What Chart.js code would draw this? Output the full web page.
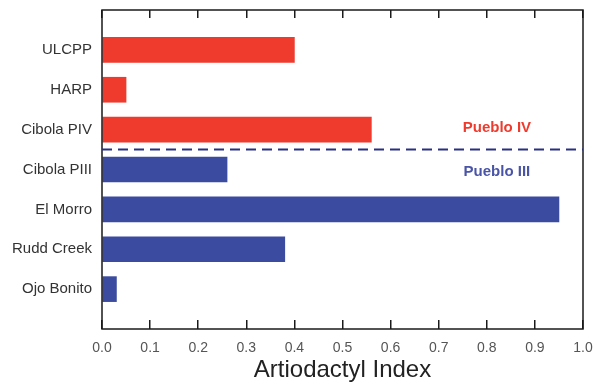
<!DOCTYPE html>
<html>
<head>
<meta charset="utf-8">
<script src="https://cdn.jsdelivr.net/npm/chart.js@4"></script>
<style>
  html, body { margin: 0; padding: 0; background: #fff; }
  #wrap { width: 597px; height: 385px; }
</style>
</head>
<body>
<div id="wrap"><canvas id="chart" width="597" height="385"></canvas></div>
<script>
// data
const sites  = ['ULCPP', 'HARP', 'Cibola PIV', 'Cibola PIII', 'El Morro', 'Rudd Creek', 'Ojo Bonito'];
const values = [0.40, 0.05, 0.56, 0.26, 0.95, 0.38, 0.03];
const period = ['IV', 'IV', 'IV', 'III', 'III', 'III', 'III'];
const xTicks = [0.0, 0.1, 0.2, 0.3, 0.4, 0.5, 0.6, 0.7, 0.8, 0.9, 1.0];
const groupLabels = ['Pueblo IV', 'Pueblo III'];

const RED = '#ee3b2e';
const BLUE = '#3b4b9f';
const FONT = '"Liberation Sans", Arial, sans-serif';

// empty slot above and below, like the original axis
const labels = ['', ...sites, ''];
const data = [null, ...values, null];
const colors = ['#fff', ...period.map(p => p === 'IV' ? RED : BLUE), '#fff'];

const setTicks = scale => { scale.ticks = xTicks.map(v => ({ value: v })); };
const noEdgePad = s => { s.paddingLeft = 0; s.paddingRight = 0; s.paddingTop = 0; s.paddingBottom = 0; };

const frame = {
  id: 'frame',
  afterDraw(chart) {
    const { ctx, chartArea: a, scales } = chart;
    const y = scales.y, x = scales.x;
    ctx.save();
    // box round the plot
    ctx.strokeStyle = '#1a1a1a';
    ctx.lineWidth = 1.5;
    ctx.strokeRect(a.left, a.top, a.right - a.left, a.bottom - a.top);
    // dashed split between Pueblo IV and III
    const split = y.getPixelForValue(sites.indexOf('Cibola PIV') + 1.5);
    ctx.strokeStyle = '#2a3080';
    ctx.lineWidth = 2;
    ctx.setLineDash([10, 6]);
    ctx.beginPath();
    ctx.moveTo(a.left, split);
    ctx.lineTo(a.right, split);
    ctx.stroke();
    ctx.setLineDash([]);
    // group names
    ctx.font = 'bold 15px ' + FONT;
    ctx.textAlign = 'center';
    ctx.textBaseline = 'middle';
    const tx = x.getPixelForValue(0.821);
    ctx.fillStyle = RED;
    ctx.fillText(groupLabels[0], tx, split - 22);
    ctx.fillStyle = '#4a55a8';
    ctx.fillText(groupLabels[1], tx, split + 22);
    ctx.restore();
  }
};

new Chart(document.getElementById('chart'), {
  type: 'bar',
  data: {
    labels,
    datasets: [{
      data,
      backgroundColor: colors,
      borderWidth: 0,
      barThickness: 25
    }]
  },
  options: {
    indexAxis: 'y',
    responsive: false,
    animation: false,
    layout: { padding: { top: 10, right: 14, left: 0, bottom: 0 } },
    plugins: { legend: { display: false }, tooltip: { enabled: false } },
    scales: {
      x: {
        type: 'linear',
        position: 'bottom',
        min: 0, max: 1,
        afterBuildTicks: setTicks,
        afterFit: s => { s.height = 56; noEdgePad(s); },
        border: { display: false },
        grid: { drawOnChartArea: false, drawTicks: true, tickLength: -9, color: '#1a1a1a', lineWidth: 1.5 },
        ticks: {
          padding: 20,
          color: '#555',
          font: { family: FONT, size: 14 },
          callback: v => Number(v).toFixed(1),
          maxRotation: 0
        },
        title: {
          display: true,
          text: 'Artiodactyl Index',
          color: '#222',
          font: { family: FONT, size: 24 },
          padding: { top: 0, bottom: 0 }
        }
      },
      x2: {
        type: 'linear',
        position: 'top',
        min: 0, max: 1,
        afterBuildTicks: setTicks,
        afterFit: s => { s.height = 0; noEdgePad(s); },
        border: { display: false },
        grid: { drawOnChartArea: false, drawTicks: true, tickLength: -8, color: '#1a1a1a', lineWidth: 1.5 },
        ticks: { display: false }
      },
      y: {
        type: 'category',
        offset: false,
        afterFit: s => { s.width = 102; noEdgePad(s); },
        border: { display: false },
        grid: { display: false, drawTicks: false },
        ticks: {
          padding: 10,
          color: '#333',
          font: { family: FONT, size: 15 },
          autoSkip: false
        }
      }
    }
  },
  plugins: [frame]
});
</script>
</body>
</html>
